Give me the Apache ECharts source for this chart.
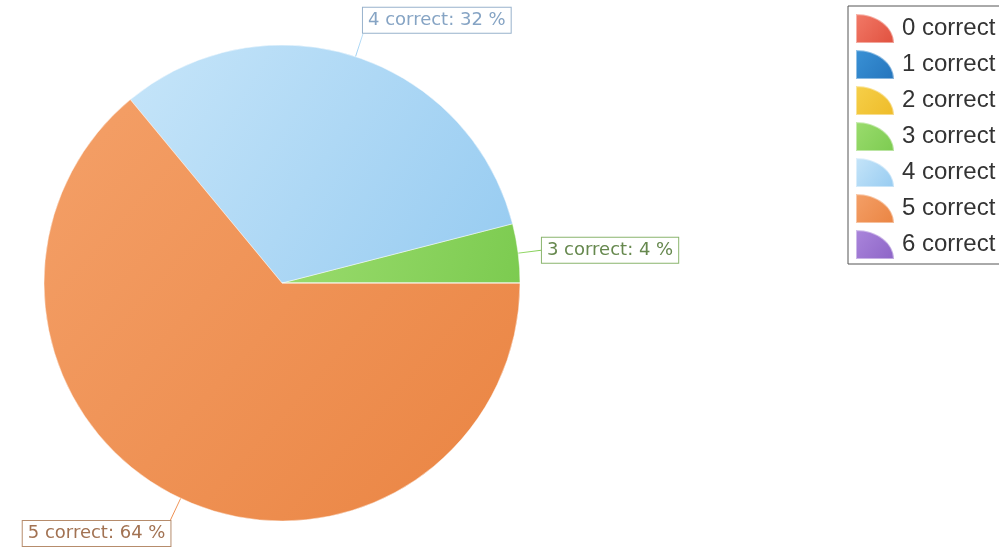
<!DOCTYPE html>
<html>
<head>
<meta charset="utf-8">
<script src="https://cdn.jsdelivr.net/npm/echarts@6/dist/echarts.min.js"></script>
<style>
html,body{margin:0;padding:0;background:#fff;}
#chart{width:999px;height:550px;}
</style>
</head>
<body>
<div id="chart"></div>
<script>
var categories = ['0 correct','1 correct','2 correct','3 correct','4 correct','5 correct','6 correct'];
var values = [0, 0, 0, 1, 8, 16, 0];
var colorsLight = ['#f27a68','#3a92d6','#f6d04a','#9bdc6e','#c6e5f9','#f4a068','#ab86dc'];
var colorsDark  = ['#e0503e','#2474bc','#eebb28','#7ccb50','#96cbf1','#ea8442','#8c64c6'];
var labelText   = ['#b06050','#3a70a0','#a08030','#66884e','#86a4c4','#a27252','#7a60a0'];
var labelBorder = ['#c08070','#6090c0','#c0a050','#8ab56e','#98b2cc','#b68c6c','#9a80c0'];

var chart = echarts.init(document.getElementById('chart'), null, {renderer:'canvas'});
var data = categories.map(function(name, i){
  var item = {
    name: name,
    value: values[i],
    itemStyle: {
      color: new echarts.graphic.LinearGradient(0, 0, 1, 1, [
        {offset: 0, color: colorsLight[i]},
        {offset: 1, color: colorsDark[i]}
      ])
    },
    label: {color: labelText[i], borderColor: labelBorder[i]}
  };
  if (values[i] === 0) {
    item.label = {show: false};
    item.labelLine = {show: false};
  }
  return item;
});

chart.setOption({
  backgroundColor: '#ffffff',
  animation: false,
  legend: {
    orient: 'vertical',
    left: 848,
    top: 6,
    padding: [7, 7, 4, 7],
    itemWidth: 38,
    itemHeight: 29,
    itemGap: 5,
    symbolKeepAspect: false,
    borderColor: '#555555',
    borderWidth: 1,
    icon: 'path://M0,0 C0.552,0 1,0.448 1,1 L0,1 Z',
    textStyle: {fontFamily: 'Liberation Sans', fontSize: 24, lineHeight: 29, color: '#333333', padding: [0,8,0,3]},
    data: categories
  },
  series: [{
    type: 'pie',
    center: [282, 283],
    radius: 238,
    startAngle: 0,
    clockwise: false,
    avoidLabelOverlap: false,
    stillShowZeroSum: true,
    itemStyle: {borderColor: 'rgba(255,255,255,0.45)', borderWidth: 1},
    label: {
      show: true,
      position: 'outside',
      formatter: '{b}: {d} %',
      fontFamily: 'DejaVu Sans',
      fontSize: 18,
      lineHeight: 20,
      backgroundColor: '#ffffff',
      borderWidth: 1,
      padding: [3, 5, 2, 5],
      distanceToLabelLine: 0
    },
    labelLine: {show: true, length: 24, length2: 0, lineStyle: {width: 1}},
    emphasis: {disabled: true},
    labelLayout: function(params){
      var p = params.labelLinePoints;
      if (!p) return {};
      var a = p[0], b = p[p.length-1];
      var dx = b[0]-a[0], dy = b[1]-a[1];
      if (Math.abs(dy) > Math.abs(dx)) {
        return {dy: (dy > 0 ? 1 : -1) * params.labelRect.height / 2};
      }
      return {};
    },
    data: data
  }]
});
</script>
</body>
</html>
